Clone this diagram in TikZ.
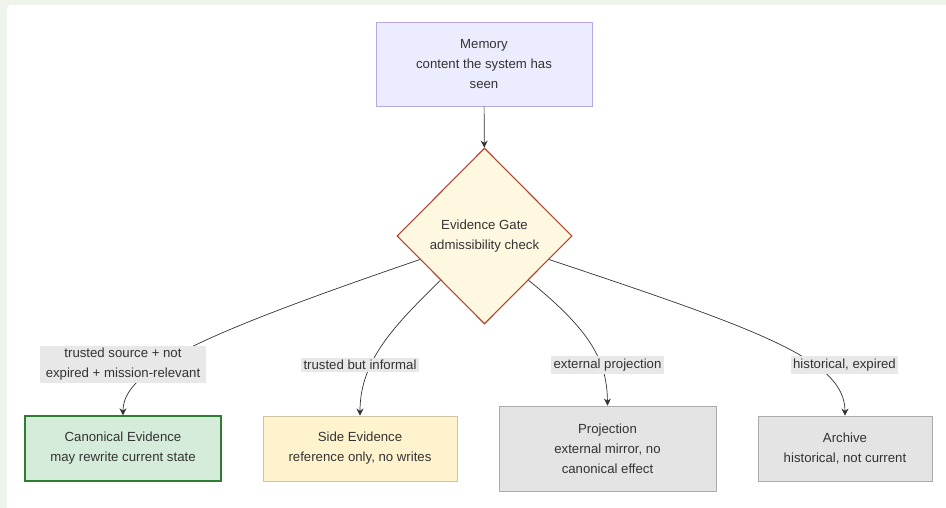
\documentclass[tikz,border=0pt]{standalone}
\usepackage{fontspec}
\setmainfont{Liberation Sans}
\usetikzlibrary{shapes.geometric,arrows.meta}
\definecolor{txt}{HTML}{333333}
\definecolor{outerbg}{HTML}{EEF4EC}
\definecolor{memfill}{HTML}{ECECFF}
\definecolor{memdraw}{HTML}{B7A8E8}
\definecolor{gatefill}{HTML}{FFF8E1}
\definecolor{gatedraw}{HTML}{B5452F}
\definecolor{canfill}{HTML}{D5ECDA}
\definecolor{candraw}{HTML}{2E7D32}
\definecolor{sidefill}{HTML}{FFF3CD}
\definecolor{sidedraw}{HTML}{CFC6A6}
\definecolor{grayfill}{HTML}{E4E4E4}
\definecolor{graydraw}{HTML}{ABABAB}
\definecolor{lblfill}{HTML}{E8E8E8}
\begin{document}
\begin{tikzpicture}[x=1pt,y=-1pt,
  every node/.style={font=\fontsize{13.2}{20}\selectfont, text=txt, align=center},
  boxnode/.style={rectangle, draw, line width=0.8pt, inner sep=0pt},
  lbl/.style={fill=lblfill, inner sep=2.5pt, font=\fontsize{13.2}{20}\selectfont},
  conn/.style={draw=txt, line width=0.7pt, -{Stealth[length=7pt,width=7pt]}}]
\useasboundingbox (0,0) rectangle (946,508);
\fill[outerbg] (0,0) rectangle (946,508);
\fill[white, rounded corners=4pt] (7,5) rectangle (960,520);

\node[boxnode, fill=memfill, draw=memdraw, minimum width=216pt, minimum height=84pt] (mem) at (484,64) {Memory\\content the system has\\seen};
\node[diamond, draw=gatedraw, fill=gatefill, line width=1.1pt, inner sep=0pt, minimum width=175pt, minimum height=176pt] (gate) at (484.5,236) {Evidence Gate\\admissibility check};

\node[boxnode, fill=canfill, draw=candraw, line width=1.3pt, minimum width=196pt, minimum height=65pt] (can) at (123,448.5) {Canonical Evidence\\may rewrite current state};
\node[boxnode, fill=sidefill, draw=sidedraw, minimum width=194pt, minimum height=65pt] (side) at (360,448.5) {Side Evidence\\reference only, no writes};
\node[boxnode, fill=grayfill, draw=graydraw, minimum width=217pt, minimum height=85pt] (proj) at (607.5,448.5) {Projection\\external mirror, no\\canonical effect};
\node[boxnode, fill=grayfill, draw=graydraw, minimum width=174pt, minimum height=65pt] (arch) at (845,448.5) {Archive\\historical, not current};

\draw[conn] (mem) -- (gate);
\draw[conn] (gate.200) .. controls (200,335) and (123,370) .. (can.north);
\draw[conn] (gate.south west) .. controls (395,325) and (360,360) .. (side.north);
\draw[conn] (gate.south east) .. controls (590,330) and (607,360) .. (proj.north);
\draw[conn] (gate.-20) .. controls (760,330) and (845,360) .. (arch.north);

\node[lbl, minimum width=166pt] (l1) at (123,364.5) {trusted source + not\\expired + mission-relevant};
\node[lbl] (l2) at (360,365) {trusted but informal};
\node[lbl] (l3) at (607.5,365) {external projection};
\node[lbl] (l4) at (844.5,365) {historical, expired};
\end{tikzpicture}
\end{document}
